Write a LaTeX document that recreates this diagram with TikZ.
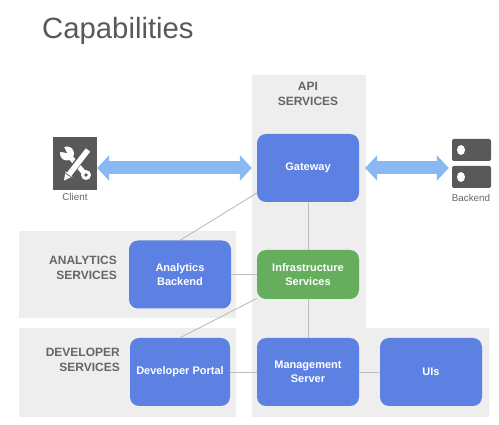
\documentclass[tikz,border=0pt]{standalone}
\usepackage{fontspec}
\setmainfont{Liberation Sans}
\usetikzlibrary{arrows.meta}
\definecolor{panelgrey}{HTML}{EEEEEE}
\definecolor{boxblue}{HTML}{5C81E3}
\definecolor{boxgreen}{HTML}{66AE5E}
\definecolor{arrowblue}{HTML}{8AB8F4}
\definecolor{icongrey}{HTML}{595959}
\definecolor{linegrey}{HTML}{BDBDBD}
\definecolor{textgrey}{HTML}{666666}
\tikzset{
  bluebox/.style={draw=none,fill=boxblue,rounded corners=9pt,minimum width=102pt,minimum height=68pt,inner sep=0pt,align=center,text=white,font=\fontsize{11}{13.6}\selectfont\bfseries},
  greenbox/.style={bluebox,fill=boxgreen,minimum height=49pt},
  panel/.style={fill=panelgrey,draw=none},
  paneltext/.style={text=textgrey,align=right,inner sep=0pt,font=\fontsize{12}{15.4}\selectfont\bfseries},
  smalltext/.style={text=textgrey,inner sep=0pt,font=\fontsize{9.8}{11}\selectfont},
  thinline/.style={draw=linegrey,line width=0.9pt},
  bigarrow/.style={draw=arrowblue,line width=13pt,{Triangle[length=12pt,width=25pt]}-{Triangle[length=12pt,width=25pt]}}
}
\begin{document}
\begin{tikzpicture}[x=1pt,y=-1pt]
   \useasboundingbox (0,0) rectangle (499,425);
   % panels
   \fill[panel] (252,75) -- (366,75) -- (366,328) -- (489,328) -- (489,417) -- (252,417) -- cycle;
   \fill[panel] (19,231) rectangle (236,318);
   \fill[panel] (19,328) rectangle (236,417);

   \draw (42,31) node[anchor=west,inner sep=0pt,text=icongrey,font=\fontsize{29.3}{32}\selectfont] (title) {Capabilities};
   \draw (308,94) node[paneltext,align=center] (apitext) {API\\SERVICES};
   \draw (117,268) node[paneltext,anchor=east] (analyticstext) {ANALYTICS\\SERVICES};
   \draw (120,360) node[paneltext,anchor=east] (developertext) {DEVELOPER\\SERVICES};

   \draw (308,168) node[bluebox] (gateway) {Gateway};
   \draw (308,274.5) node[greenbox] (infra) {Infrastructure\\Services};
   \draw (308,372) node[bluebox] (management) {Management\\Server};
   \draw (431,372) node[bluebox] (uis) {UIs};
   \draw (180,274.5) node[bluebox] (analytics) {Analytics\\Backend};
   \draw (180,372) node[bluebox,minimum width=100pt] (portal) {Developer Portal};

   % client icon
   \draw (75,163.5) node[fill=icongrey,minimum width=44pt,minimum height=53pt,inner sep=0pt] (client) {};
   \draw (75,197) node[smalltext] (clienttext) {Client};
   \begin{scope}[shift={(client.center)}]
     \draw[white,line width=5pt] (-7,-9) -- (11,11.5);
     \fill[white] (-8,-10) circle (7pt);
     \fill[icongrey] (-8,-10.5) -- (-12,-18.5) -- (-17,-16) -- (-17,-12) -- cycle;
     \fill[white] (11,11.5) circle (5pt);
     \fill[icongrey] (11,11.5) circle (1.8pt);
     \draw[icongrey,line width=7.5pt] (9,-9) -- (-5,9);
     \draw[white,line width=5.5pt] (13,-13.5) -- (-6,11);
     \fill[white] (-11,17) -- (-9.5,8) -- (-2.5,13) -- cycle;
     \draw[icongrey,line width=0.7pt] (-10,9.5) -- (-3,14);
   \end{scope}

   % backend icon
   \draw (471.5,163.5) node[minimum width=39pt,minimum height=49pt,inner sep=0pt] (backend) {};
   \fill[icongrey,rounded corners=2pt] (452,139) rectangle (491,161);
   \fill[icongrey,rounded corners=2pt] (452,166) rectangle (491,188);
   \fill[white] (461,150) ellipse (4pt and 5pt);
   \fill[white] (461,177) ellipse (4pt and 5pt);
   \draw (471,198) node[smalltext] (backendtext) {Backend};

   % connectors
   \path[-,thinline] (analytics.north) edge (gateway.206);
   \path[-,thinline] (portal.north) edge (infra.205);
   \path[-,thinline] (gateway) edge (infra);
   \path[-,thinline] (infra) edge (management);
   \path[-,thinline] (analytics) edge (infra);
   \path[-,thinline] (portal) edge (management);
   \path[-,thinline] (management) edge (uis);
   \draw[bigarrow,shorten >=5pt] (client.east |- gateway.west) -- (gateway.west);
   \draw[bigarrow,shorten <=6pt,shorten >=3pt] (gateway.east) -- (backend.west |- gateway.east);
\end{tikzpicture}
\end{document}
